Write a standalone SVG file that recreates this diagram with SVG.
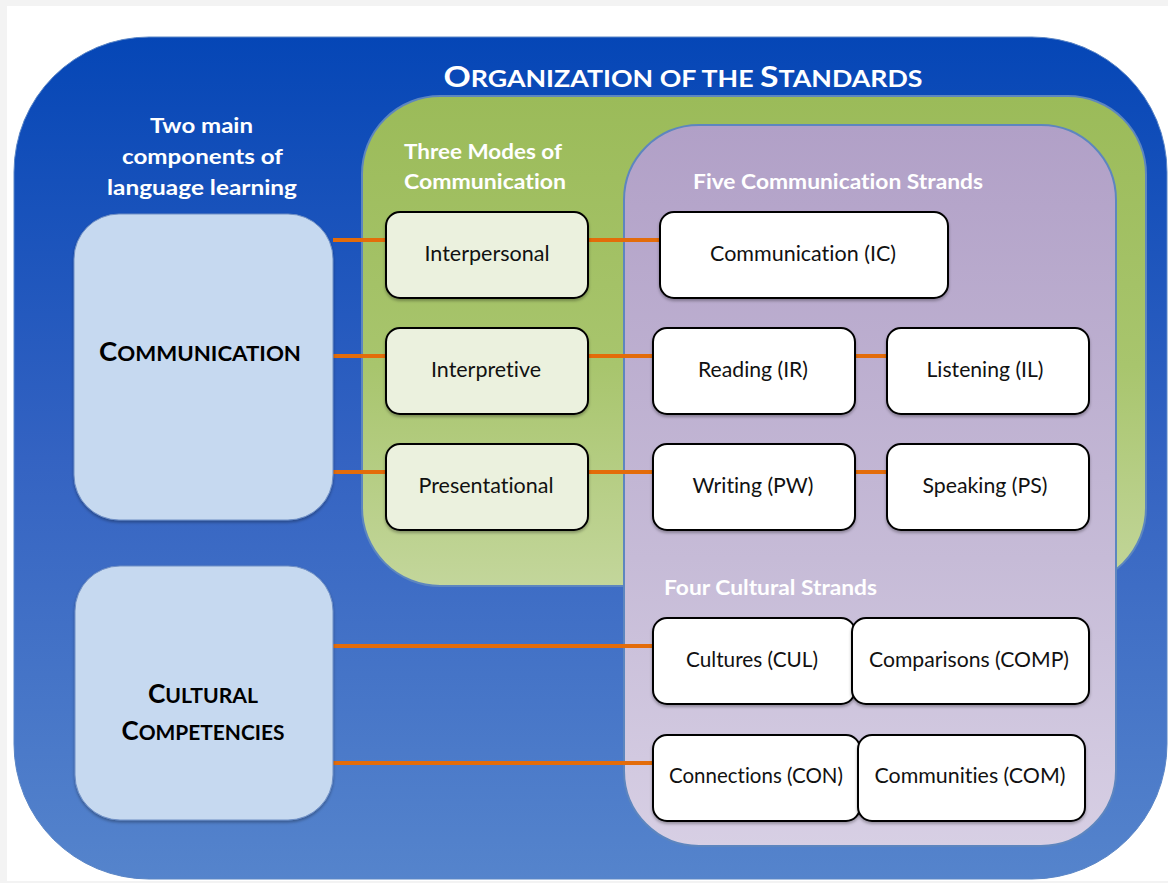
<svg xmlns="http://www.w3.org/2000/svg" width="1168" height="883" viewBox="0 0 1168 883">
<defs>
<linearGradient id="gBlue" x1="0" y1="0" x2="0" y2="1">
<stop offset="0" stop-color="#0546b6"/>
<stop offset="0.5" stop-color="#3463c2"/>
<stop offset="1" stop-color="#5584cc"/>
</linearGradient>
<linearGradient id="gGreen" x1="0" y1="0" x2="0" y2="1">
<stop offset="0" stop-color="#9bbb59"/>
<stop offset="0.55" stop-color="#a8c56d"/>
<stop offset="1" stop-color="#c3d69b"/>
</linearGradient>
<linearGradient id="gPurple" x1="0" y1="0" x2="0" y2="1">
<stop offset="0" stop-color="#b1a0c7"/>
<stop offset="0.6" stop-color="#c6bbd7"/>
<stop offset="1" stop-color="#d7cfe4"/>
</linearGradient>
<filter id="sh" x="-10%" y="-10%" width="120%" height="130%">
<feDropShadow dx="0" dy="2" stdDeviation="1.5" flood-color="#000" flood-opacity="0.3"/>
</filter>
</defs>
<style>
.txt{font-family:Lato,"Open Sans","Liberation Sans",sans-serif;font-variant-ligatures:none;}
.hdr{fill:#ffffff;font-weight:bold;font-size:21px;}
.box{stroke:#000;stroke-width:2;}
.mode{fill:#ebf1de;}
.strand{fill:#ffffff;}
.lbl{font-size:21px;fill:#111;text-anchor:middle;}
.comp{fill:#c6d9f0;stroke:#6f8fc4;stroke-width:1;}
.big{fill:#000;font-weight:bold;text-anchor:middle;}
.conn{stroke:#e36c0a;stroke-width:4;fill:none;}
</style>
<rect x="0" y="0" width="1168" height="883" fill="#f3f3f3"/>
<rect x="7" y="6" width="1161" height="875" fill="#ffffff"/>
<g id="frame">
<rect x="14" y="37" width="1153" height="842" rx="135" ry="135" fill="url(#gBlue)" stroke="#5b86c6" stroke-width="1"/>
<text class="txt hdr" x="683" y="87" text-anchor="middle" textLength="479" lengthAdjust="spacingAndGlyphs"><tspan font-size="29">O</tspan><tspan font-size="23">RGANIZATION OF THE </tspan><tspan font-size="29">S</tspan><tspan font-size="23">TANDARDS</tspan></text>
<text class="txt hdr" x="150" y="133" textLength="103" lengthAdjust="spacingAndGlyphs">Two main</text>
<text class="txt hdr" x="122" y="164" textLength="161" lengthAdjust="spacingAndGlyphs">components of</text>
<text class="txt hdr" x="107" y="195" textLength="190" lengthAdjust="spacingAndGlyphs">language learning</text>
</g>
<g id="modes-panel">
<rect x="362" y="96" width="784" height="490" rx="78" ry="78" fill="url(#gGreen)" stroke="#5d86bf" stroke-width="2"/>
<text class="txt hdr" x="404" y="159" fill="#f4f4f4" textLength="158" lengthAdjust="spacingAndGlyphs">Three Modes of</text>
<text class="txt hdr" x="404" y="189" fill="#f4f4f4" textLength="162" lengthAdjust="spacingAndGlyphs">Communication</text>
</g>
<g id="strands-panel">
<rect x="624" y="125" width="492" height="721" rx="75" ry="75" fill="url(#gPurple)" stroke="#5d86bf" stroke-width="2"/>
<text class="txt hdr" x="693" y="189" textLength="290" lengthAdjust="spacingAndGlyphs">Five Communication Strands</text>
<text class="txt hdr" x="664" y="595" fill="#f6f6f6" textLength="213" lengthAdjust="spacingAndGlyphs">Four Cultural Strands</text>
</g>
<g id="connectors">
<line class="conn" x1="333" y1="240" x2="386" y2="240"/>
<line class="conn" x1="588" y1="240" x2="660" y2="240"/>
<line class="conn" x1="333" y1="356" x2="386" y2="356"/>
<line class="conn" x1="588" y1="356" x2="653" y2="356"/>
<line class="conn" x1="855" y1="356" x2="887" y2="356"/>
<line class="conn" x1="333" y1="472" x2="386" y2="472"/>
<line class="conn" x1="588" y1="472" x2="653" y2="472"/>
<line class="conn" x1="855" y1="472" x2="887" y2="472"/>
<line class="conn" x1="333" y1="646" x2="653" y2="646"/>
<line class="conn" x1="333" y1="763" x2="653" y2="763"/>
</g>
<g id="communication">
<rect class="comp" x="74" y="214" width="259" height="306" rx="45" ry="45" filter="url(#sh)"/>
<text class="txt big" x="200" y="361" textLength="202" lengthAdjust="spacingAndGlyphs"><tspan font-size="26">C</tspan><tspan font-size="21">OMMUNICATION</tspan></text>
</g>
<g id="cultural">
<rect class="comp" x="75" y="566" width="258" height="254" rx="45" ry="45" filter="url(#sh)"/>
<text class="txt big" x="203" y="703" textLength="110" lengthAdjust="spacingAndGlyphs"><tspan font-size="26">C</tspan><tspan font-size="21">ULTURAL</tspan></text>
<text class="txt big" x="203" y="740" textLength="163" lengthAdjust="spacingAndGlyphs"><tspan font-size="26">C</tspan><tspan font-size="21">OMPETENCIES</tspan></text>
</g>
<g id="interpersonal">
<rect class="box mode" x="386" y="212" width="202" height="86" rx="14" ry="14" filter="url(#sh)"/>
<text class="txt lbl" x="487" y="261" textLength="125" lengthAdjust="spacingAndGlyphs">Interpersonal</text>
</g>
<g id="interpretive">
<rect class="box mode" x="386" y="328" width="202" height="86" rx="14" ry="14" filter="url(#sh)"/>
<text class="txt lbl" x="486" y="377" textLength="110" lengthAdjust="spacingAndGlyphs">Interpretive</text>
</g>
<g id="presentational">
<rect class="box mode" x="386" y="444" width="202" height="86" rx="14" ry="14" filter="url(#sh)"/>
<text class="txt lbl" x="486" y="493" textLength="135" lengthAdjust="spacingAndGlyphs">Presentational</text>
</g>
<g id="comm-ic">
<rect class="box strand" x="660" y="212" width="288" height="86" rx="14" ry="14" filter="url(#sh)"/>
<text class="txt lbl" x="803" y="261" textLength="186" lengthAdjust="spacingAndGlyphs">Communication (IC)</text>
</g>
<g id="reading">
<rect class="box strand" x="653" y="328" width="202" height="86" rx="14" ry="14" filter="url(#sh)"/>
<text class="txt lbl" x="753" y="377" textLength="110" lengthAdjust="spacingAndGlyphs">Reading (IR)</text>
</g>
<g id="listening">
<rect class="box strand" x="887" y="328" width="202" height="86" rx="14" ry="14" filter="url(#sh)"/>
<text class="txt lbl" x="985" y="377" textLength="117" lengthAdjust="spacingAndGlyphs">Listening (IL)</text>
</g>
<g id="writing">
<rect class="box strand" x="653" y="444" width="202" height="86" rx="14" ry="14" filter="url(#sh)"/>
<text class="txt lbl" x="753" y="493" textLength="121" lengthAdjust="spacingAndGlyphs">Writing (PW)</text>
</g>
<g id="speaking">
<rect class="box strand" x="887" y="444" width="202" height="86" rx="14" ry="14" filter="url(#sh)"/>
<text class="txt lbl" x="985" y="493" textLength="125" lengthAdjust="spacingAndGlyphs">Speaking (PS)</text>
</g>
<g id="cultures">
<rect class="box strand" x="653" y="618" width="202" height="86" rx="14" ry="14" filter="url(#sh)"/>
<text class="txt lbl" x="752" y="667" textLength="132" lengthAdjust="spacingAndGlyphs">Cultures (CUL)</text>
</g>
<g id="comparisons">
<rect class="box strand" x="852" y="618" width="237" height="86" rx="14" ry="14" filter="url(#sh)"/>
<text class="txt lbl" x="969" y="667" textLength="200" lengthAdjust="spacingAndGlyphs">Comparisons (COMP)</text>
</g>
<g id="connections">
<rect class="box strand" x="653" y="735" width="207" height="86" rx="14" ry="14" filter="url(#sh)"/>
<text class="txt lbl" x="756" y="783" textLength="174" lengthAdjust="spacingAndGlyphs">Connections (CON)</text>
</g>
<g id="communities">
<rect class="box strand" x="858" y="735" width="227" height="86" rx="14" ry="14" filter="url(#sh)"/>
<text class="txt lbl" x="970" y="783" textLength="191" lengthAdjust="spacingAndGlyphs">Communities (COM)</text>
</g>
</svg>
